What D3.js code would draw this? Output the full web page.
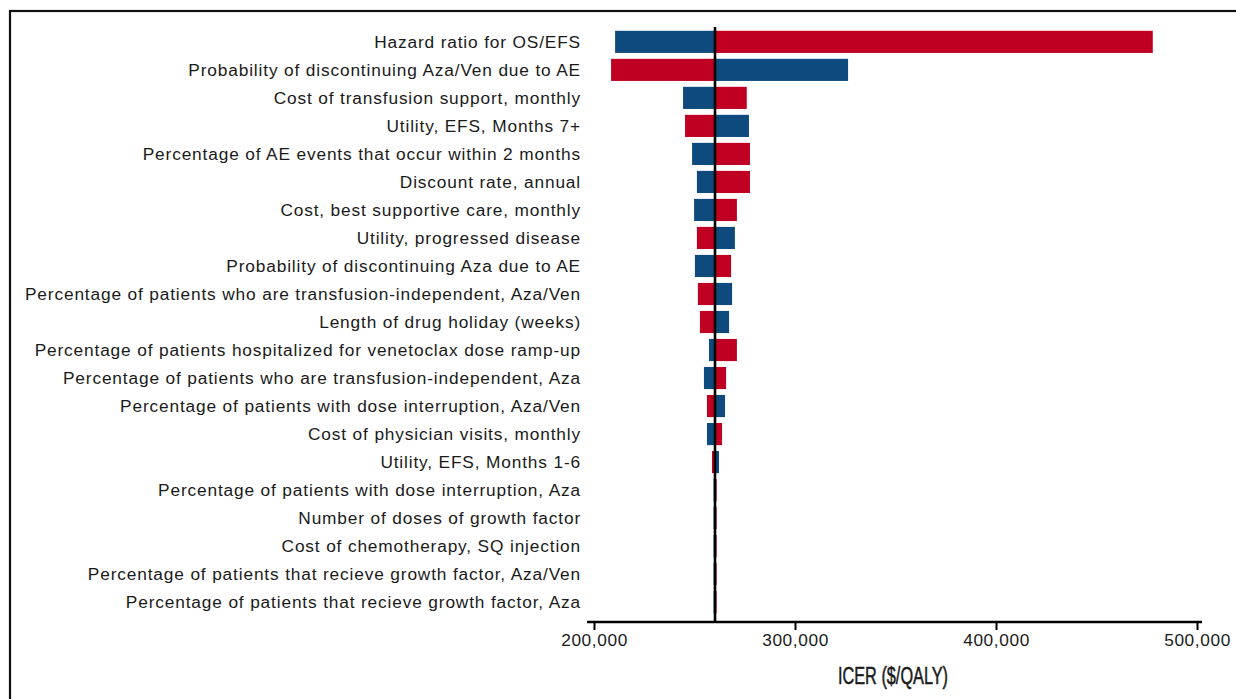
<!DOCTYPE html>
<html>
<head>
<meta charset="utf-8">
<script src="https://cdn.jsdelivr.net/npm/d3@7"></script>
<style>
  body { margin: 0; background: #fff; }
  svg { display: block; }
</style>
</head>
<body>
<svg class="tornado" width="1236" height="699"></svg>
<script>
// parameters, top to bottom
var labels = [
  "Hazard ratio for OS/EFS",
  "Probability of discontinuing Aza/Ven due to AE",
  "Cost of transfusion support, monthly",
  "Utility, EFS, Months 7+",
  "Percentage of AE events that occur within 2 months",
  "Discount rate, annual",
  "Cost, best supportive care, monthly",
  "Utility, progressed disease",
  "Probability of discontinuing Aza due to AE",
  "Percentage of patients who are transfusion-independent, Aza/Ven",
  "Length of drug holiday (weeks)",
  "Percentage of patients hospitalized for venetoclax dose ramp-up",
  "Percentage of patients who are transfusion-independent, Aza",
  "Percentage of patients with dose interruption, Aza/Ven",
  "Cost of physician visits, monthly",
  "Utility, EFS, Months 1-6",
  "Percentage of patients with dose interruption, Aza",
  "Number of doses of growth factor",
  "Cost of chemotherapy, SQ injection",
  "Percentage of patients that recieve growth factor, Aza/Ven",
  "Percentage of patients that recieve growth factor, Aza"
];
// ICER at each end of the parameter range
var blueValues = [210500, 326400, 244300, 277100, 248800, 251200, 249800, 270100, 250200, 268700,
                  267200, 257200, 254700, 265200, 256200, 262200, 259500, 259500, 259500, 259500, 259500];
var redValues  = [478000, 208500, 276000, 245300, 277600, 277600, 271100, 251200, 268200, 251700,
                  252700, 271100, 265700, 256200, 263700, 258700, 261000, 261000, 261000, 261000, 261000];
var baseIcer = 260200;
var xTicks = [200000, 300000, 400000, 500000];

var blue = "#0e4a7d", red = "#c00022";

var svg = d3.select("svg.tornado");

// outer frame (runs off the right and bottom edge)
svg.append("rect")
    .attr("x", 10).attr("y", 11)
    .attr("width", 1300).attr("height", 760)
    .attr("fill", "none").attr("stroke", "#111").attr("stroke-width", 2.2);

var x = d3.scaleLinear().domain([200000, 500000]).range([594, 1197]);
var y = d3.scaleBand().domain(labels).range([28, 616]).paddingInner(0.21).paddingOuter(0.1);

var rows = labels.map(function(d, i) {
  return { label: d, blue: blueValues[i], red: redValues[i] };
});

var g = svg.append("g");

// bars: blue end and red end, both from the base case
["blue", "red"].forEach(function(key) {
  g.selectAll("rect." + key)
    .data(rows)
    .enter()
    .append("rect")
    .attr("class", key)
    .attr("x", function(d) { return x(Math.min(d[key], baseIcer)); })
    .attr("y", function(d) { return y(d.label); })
    .attr("width", function(d) { return Math.abs(x(d[key]) - x(baseIcer)); })
    .attr("height", y.bandwidth())
    .attr("fill", key == "blue" ? blue : red);
});

// parameter labels
g.selectAll("text.lab")
    .data(rows)
    .enter()
    .append("text")
    .attr("class", "lab")
    .attr("x", 581)
    .attr("y", function(d) { return y(d.label) + y.bandwidth() / 2; })
    .attr("dy", "0.35em")
    .attr("text-anchor", "end")
    .attr("font-family", "Liberation Sans, Arial, sans-serif")
    .attr("font-size", 17.3)
    .attr("letter-spacing", 0.85)
    .attr("fill", "#1a1a1a")
    .text(function(d) { return d.label; });

// base case line
g.append("line")
    .attr("x1", x(baseIcer)).attr("x2", x(baseIcer))
    .attr("y1", 27).attr("y2", 622)
    .attr("stroke", "#000").attr("stroke-width", 2.6);

// x axis
var axis = svg.append("g")
    .attr("transform", "translate(0,622)")
    .call(d3.axisBottom(x).tickValues(xTicks).tickFormat(d3.format(",")).tickSize(8).tickPadding(4).tickSizeOuter(0));
axis.select(".domain").remove();
axis.append("line")
    .attr("x1", 587).attr("x2", 1202)
    .attr("stroke", "#000").attr("stroke-width", 2.6);
axis.selectAll(".tick line").attr("stroke", "#000").attr("stroke-width", 2);
axis.selectAll(".tick text")
    .attr("font-family", "Liberation Sans, Arial, sans-serif")
    .attr("font-size", 17.3)
    .attr("letter-spacing", 0.6)
    .attr("fill", "#1a1a1a");

// axis title, condensed
svg.append("text")
    .attr("x", 893).attr("y", 684)
    .attr("text-anchor", "middle")
    .attr("font-family", "Liberation Sans, Arial, sans-serif")
    .attr("font-size", 23)
    .attr("textLength", 110)
    .attr("lengthAdjust", "spacingAndGlyphs")
    .attr("fill", "#1a1a1a")
    .attr("stroke", "#1a1a1a")
    .attr("stroke-width", 0.5)
    .text("ICER ($/QALY)");
</script>
</body>
</html>
